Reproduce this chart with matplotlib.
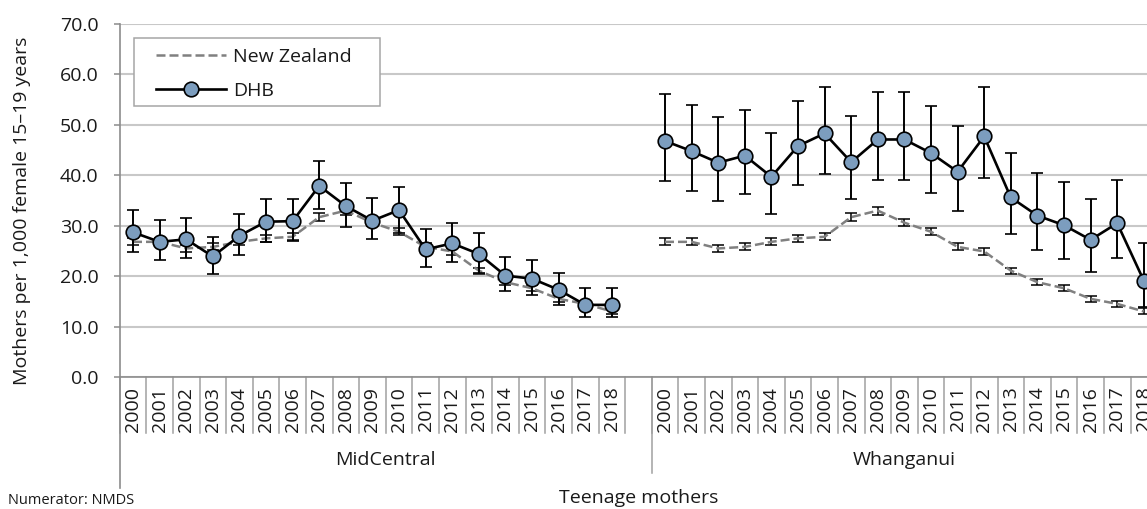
import numpy as np
import matplotlib
matplotlib.use('Agg')
import matplotlib.pyplot as plt
import matplotlib.transforms as mtransforms
from matplotlib.patches import Rectangle

plt.rcParams['font.family'] = ['Open Sans', 'DejaVu Sans']

# data
years = [str(y) for y in range(2000, 2019)]
dhb_names = ['MidCentral', 'Whanganui']
outer_label = 'Teenage mothers'

nz_rate = [26.8, 26.8, 25.5, 25.8, 26.8, 27.5, 27.8, 31.7, 33.0, 30.6, 28.8, 25.8, 24.9, 21.1, 18.8, 17.6, 15.5, 14.5, 13.0]
nz_lo = [26.1, 26.1, 24.8, 25.1, 26.1, 26.8, 27.1, 30.9, 32.2, 29.9, 28.1, 25.1, 24.2, 20.5, 18.2, 17.0, 14.9, 13.9, 12.4]
nz_hi = [27.5, 27.5, 26.2, 26.5, 27.5, 28.2, 28.5, 32.5, 33.8, 31.3, 29.5, 26.5, 25.6, 21.7, 19.4, 18.2, 16.1, 15.1, 13.6]

mc_rate = [28.7, 26.8, 27.3, 23.9, 28.0, 30.8, 30.9, 37.9, 33.9, 31.0, 33.1, 25.3, 26.5, 24.4, 20.1, 19.5, 17.3, 14.3, 14.3]
mc_lo = [24.8, 23.2, 23.6, 20.4, 24.2, 26.8, 27.0, 33.4, 29.7, 27.3, 28.5, 21.8, 22.8, 20.6, 17.0, 16.3, 14.3, 11.9, 11.9]
mc_hi = [33.1, 31.1, 31.5, 27.8, 32.3, 35.2, 35.2, 42.8, 38.4, 35.5, 37.7, 29.3, 30.6, 28.5, 23.8, 23.2, 20.7, 17.6, 17.6]

wh_rate = [46.8, 44.8, 42.5, 43.9, 39.7, 45.8, 48.3, 42.6, 47.1, 47.1, 44.4, 40.7, 47.7, 35.6, 32.0, 30.1, 27.2, 30.5, 19.1]
wh_lo = [38.8, 36.9, 34.9, 36.3, 32.4, 38.0, 40.3, 35.2, 39.1, 39.1, 36.5, 33.0, 39.5, 28.4, 25.1, 23.4, 20.8, 23.6, 13.9]
wh_hi = [56.2, 53.9, 51.5, 53.0, 48.3, 54.8, 57.6, 51.7, 56.5, 56.6, 53.8, 49.8, 57.6, 44.4, 40.5, 38.6, 35.3, 39.1, 26.5]

W, H = 1147, 509
n = len(years)
slot = 26.6
txt = '#1a1a1a'
axis_grey = '#8c8c8c'

fig = plt.figure(figsize=(W / 100, H / 100), dpi=100)
ax = fig.add_axes([119.7 / W, (H - 377) / H, (2 * n + 1) * slot / W, 353 / H])

mc_x = np.arange(n)
wh_x = np.arange(n) + n + 1

nz = np.array(nz_rate)
groups = [(mc_x, mc_rate, mc_lo, mc_hi), (wh_x, wh_rate, wh_lo, wh_hi)]
for x, rate, lo, hi in groups:
    rate = np.array(rate)
    nz_line = ax.errorbar(x, nz, yerr=[nz - np.array(nz_lo), np.array(nz_hi) - nz],
                          color='#808080', ls=(0, (3.6, 1.6)), lw=1.8,
                          ecolor='black', elinewidth=1.1, capsize=4.2, capthick=1.1, zorder=2)
    dhb_line = ax.errorbar(x, rate, yerr=[rate - np.array(lo), np.array(hi) - rate],
                           color='black', lw=1.9, marker='o', ms=10.5,
                           mfc='#7c9dbe', mec='black', mew=1.2,
                           ecolor='black', elinewidth=1.4, capsize=4.2, capthick=1.4, zorder=3)

ax.set_xlim(-0.5, 2 * n + 0.5)
ax.set_ylim(0, 70)
ax.set_yticks(np.arange(0, 71, 10))
ax.yaxis.set_major_formatter(matplotlib.ticker.FormatStrFormatter('%.1f'))
ax.yaxis.grid(True, color='#c8c8c8', lw=1.5)
ax.set_axisbelow(True)
ax.tick_params(axis='y', length=4.3, width=1.1, color=axis_grey, pad=11, labelsize=14, labelcolor=txt)

ax.set_xticks(np.concatenate([mc_x, wh_x]))
ax.set_xticklabels(years + years, rotation=90)
ax.tick_params(axis='x', length=0, pad=7, labelsize=14, labelcolor=txt)

for s in ['top', 'right']:
    ax.spines[s].set_visible(False)
for s in ['left', 'bottom']:
    ax.spines[s].set_color(axis_grey)
    ax.spines[s].set_linewidth(1.2)

# category separators below the axis
trans = mtransforms.blended_transform_factory(ax.transData, ax.transAxes)
y_short = -(433 - 377) / 353
y_group = -(473 - 377) / 353
y_outer = -(488 - 377) / 353
for xs in [mc_x, wh_x]:
    for b in list(xs - 0.5) + [xs[-1] + 0.5]:
        ax.plot([b, b], [0, y_short], transform=trans, color='#a0a0a0', lw=1.1, clip_on=False)
ax.plot([-0.5, -0.5], [0, y_outer], transform=trans, color=axis_grey, lw=1.2, clip_on=False)
ax.plot([n + 0.5, n + 0.5], [0, y_group], transform=trans, color='#a0a0a0', lw=1.1, clip_on=False)

ax.text((-0.5 + n + 0.5) / 2, -(460 - 377) / 353, dhb_names[0], transform=trans,
        ha='center', va='center', fontsize=14, color=txt)
ax.text((n + 0.5 + 2 * n + 0.5) / 2, -(460 - 377) / 353, dhb_names[1], transform=trans,
        ha='center', va='center', fontsize=14, color=txt)
ax.text(n, -(498 - 377) / 353, outer_label, transform=trans,
        ha='center', va='center', fontsize=14, color=txt)

fig.text(22 / W, 1 - 211 / H, 'Mothers per 1,000 female 15–19 years', rotation=90,
         ha='center', va='center', fontsize=14, color=txt)
fig.text(8 / W, 1 / H, 'Numerator: NMDS', ha='left', va='bottom', fontsize=10.5, color=txt)

# legend with its own white box
box = Rectangle((134 / W, 1 - 106 / H), 246 / W, 68 / H, transform=fig.transFigure,
                facecolor='white', edgecolor='#a6a6a6', lw=1.1, zorder=4, clip_on=False)
ax.add_patch(box)
ax.legend([nz_line.lines[0], dhb_line.lines[0]], ['New Zealand', 'DHB'],
          loc='upper left', bbox_to_anchor=(156 / W, 1 - 48 / H), bbox_transform=fig.transFigure,
          frameon=False, borderpad=0, borderaxespad=0, handlelength=3.6, handletextpad=0.35,
          labelspacing=0.8, fontsize=14, numpoints=1, labelcolor=txt)

fig.savefig('out.png', dpi=100)
